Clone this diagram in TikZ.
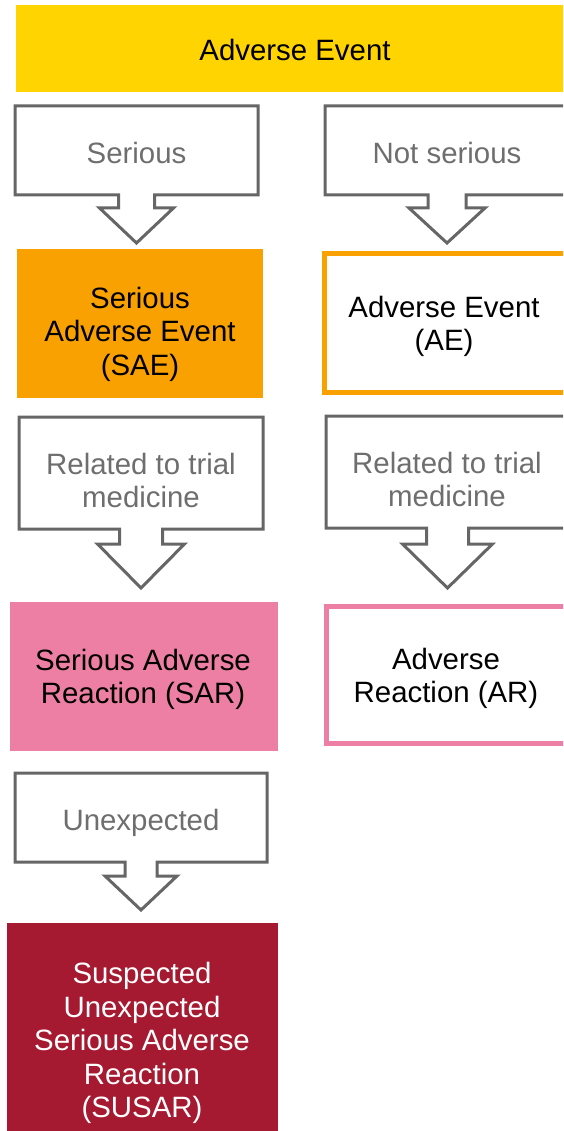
\documentclass[tikz,border=0pt]{standalone}
\usepackage{fontspec}
\setmainfont{Liberation Sans}
\definecolor{aeyellow}{HTML}{FFD400}
\definecolor{saeorange}{HTML}{F8A100}
\definecolor{sarpink}{HTML}{EE7FA4}
\definecolor{susarred}{HTML}{A61A31}
\definecolor{calloutgray}{HTML}{666666}
\definecolor{labelgray}{HTML}{6E6E6E}
\tikzset{
  lbl/.style={align=center, font=\fontsize{29.4}{33.6}\selectfont, inner sep=0pt},
  cond/.style={lbl, text=labelgray},
  calloutline/.style={draw=calloutgray, line width=3pt, fill=white, line join=miter},
}
% callout: #1 left, #2 right, #3 top, #4 bottom, #5 stem half, #6 wing y, #7 wing half, #8 tip y
\newcommand{\mycallout}[8]{%
  \pgfmathsetmacro{\cx}{(#1+#2)/2}%
  \draw[calloutline] (#1,#3) -- (#2,#3) -- (#2,#4) -- (\cx+#5,#4) -- (\cx+#5,#6) -- (\cx+#7,#6)
    -- (\cx,#8) -- (\cx-#7,#6) -- (\cx-#5,#6) -- (\cx-#5,#4) -- (#1,#4) -- cycle;%
}
\begin{document}
\begin{tikzpicture}[x=1pt,y=-1pt]
\useasboundingbox (0,0) rectangle (563,1131);
\clip (0,0) rectangle (563,1131);
% top
\fill[aeyellow] (16,5) rectangle (580,92);
\node[lbl] (ae0) at (295,50) {Adverse Event};
% row 1 callouts
\mycallout{15}{258}{106}{195}{18}{208}{37}{243}
\node[cond] (c1) at (136.5,152.5) {Serious};
\mycallout{325}{569}{106}{195}{19}{208}{38}{243}
\node[cond] (c2) at (447,152.5) {Not serious};
% row 2 boxes
\fill[saeorange] (17,249) rectangle (263,398);
\node[lbl] (sae) at (140,334) {Serious\\Adverse Event\\(SAE)};
\draw[saeorange, line width=5pt, fill=white] (324.5,253.5) rectangle (572,392.5);
\node[lbl] (ae) at (444,326.5) {Adverse Event\\(AE)};
% row 3 callouts
\mycallout{19}{263}{417}{529}{21.5}{544}{43.5}{588}
\node[cond] (c3) at (141,480.5) {Related to trial\\medicine};
\mycallout{326}{569}{416}{528}{21}{544}{45}{588}
\node[cond] (c4) at (447,479.5) {Related to trial\\medicine};
% row 4 boxes
\fill[sarpink] (10,602) rectangle (278,751);
\node[lbl] (sar) at (143,679.5) {Serious Adverse\\Reaction (SAR)};
\draw[sarpink, line width=5pt, fill=white] (326.5,606.5) rectangle (572,743.5);
\node[lbl] (ar) at (446,678.5) {Adverse\\Reaction (AR)};
% row 5
\mycallout{15}{267}{773}{862}{16}{876}{36}{910}
\node[cond] (c5) at (141,823) {Unexpected};
\fill[susarred] (7,923) rectangle (278,1140);
\node[lbl, text=white] (susar) at (142,1043) {Suspected\\Unexpected\\Serious Adverse\\Reaction\\(SUSAR)};
\end{tikzpicture}
\end{document}
